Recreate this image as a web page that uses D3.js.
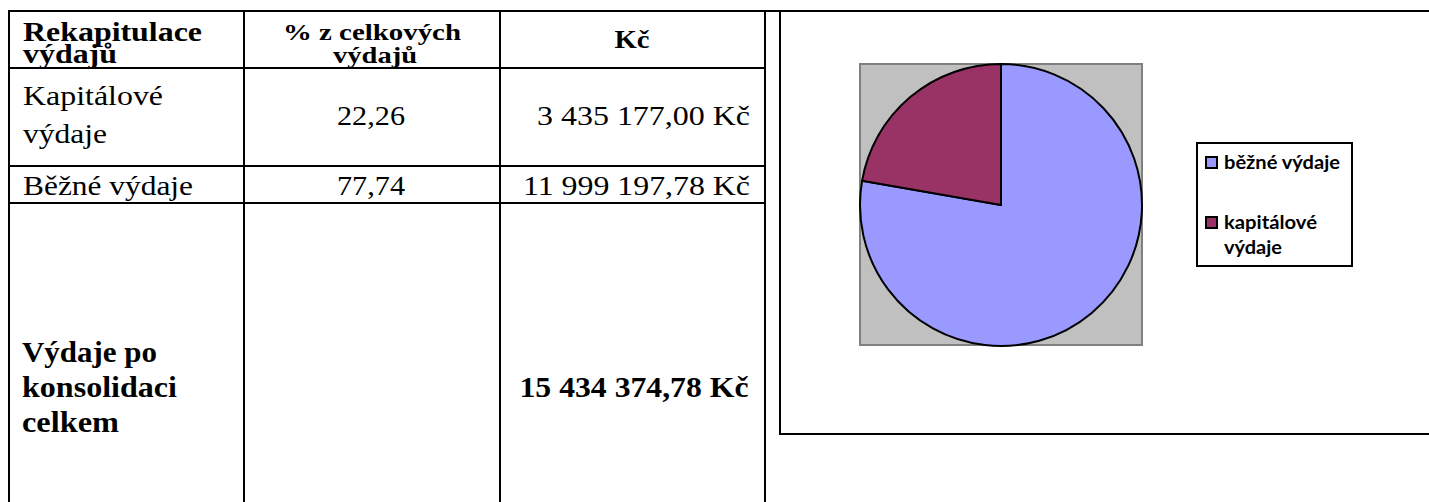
<!DOCTYPE html>
<html>
<head>
<meta charset="utf-8">
<script src="https://cdn.jsdelivr.net/npm/d3@7"></script>
<style>
  body { margin: 0; background: #fff; }
  svg { display: block; }
</style>
</head>
<body>
<svg id="chart" width="1429" height="502"></svg>
<script>
// data
var headers = [["Rekapitulace", "výdajů"], ["% z celkových", "výdajů"], ["Kč"]];
var rowLabels = [["Kapitálové", "výdaje"], ["Běžné výdaje"]];
var rowPct = ["22,26", "77,74"];
var rowKc = ["3 435 177,00 Kč", "11 999 197,78 Kč"];
var totalLabel = ["Výdaje po", "konsolidaci", "celkem"];
var totalKc = "15 434 374,78 Kč";

var pieNames = [["běžné výdaje"], ["kapitálové", "výdaje"]];
var pieValues = [77.74, 22.26];
var pieColors = ["#9999ff", "#993366"];

var SERIF = "'Liberation Serif', 'Times New Roman', serif";
var SANS = "Lato, 'Open Sans', sans-serif";

var svg = d3.select("#chart");

// table grid
var colX = [9, 244, 500, 765];
var rowY = [11, 68, 166, 203];

var grid = svg.append("g").attr("stroke", "#000").attr("stroke-width", 2);
grid.append("line").attr("x1", 8).attr("x2", 1429).attr("y1", 11).attr("y2", 11);
colX.forEach(function(x){
  grid.append("line").attr("x1", x).attr("x2", x).attr("y1", 10).attr("y2", 502);
});
rowY.slice(1).forEach(function(y){
  grid.append("line").attr("x1", 8).attr("x2", 766).attr("y1", y).attr("y2", y);
});

function txt(s, x, y, opt){
  var t = svg.append("text")
    .attr("x", x)
    .attr("y", y)
    .style("font-family", SERIF)
    .attr("font-size", opt.size)
    .attr("font-weight", opt.bold ? "bold" : "normal")
    .attr("text-anchor", opt.anchor || "start")
    .attr("fill", "#000")
    .text(s);
  if(opt.w) t.attr("textLength", opt.w).attr("lengthAdjust", "spacingAndGlyphs");
  return t;
}

// header
txt(headers[0][0], 23, 41, {size: 27, bold: true, w: 179});
txt(headers[0][1], 23, 63, {size: 27, bold: true, w: 94});
txt(headers[1][0], 372, 40, {size: 23, bold: true, w: 178, anchor: "middle"});
txt(headers[1][1], 375, 63, {size: 23, bold: true, w: 84, anchor: "middle"});
txt(headers[2][0], 632, 48, {size: 25, bold: true, w: 35, anchor: "middle"});

// rows
txt(rowLabels[0][0], 23, 105, {size: 28, w: 140});
txt(rowLabels[0][1], 23, 143, {size: 28, w: 84});
txt(rowPct[0], 371, 125, {size: 28, w: 68, anchor: "middle"});
txt(rowKc[0], 750, 125, {size: 28, w: 213, anchor: "end"});

txt(rowLabels[1][0], 23, 195, {size: 28, w: 170});
txt(rowPct[1], 371, 195, {size: 28, w: 68, anchor: "middle"});
txt(rowKc[1], 750, 195, {size: 28, w: 227, anchor: "end"});

// total
txt(totalLabel[0], 22, 362, {size: 30, bold: true, w: 135});
txt(totalLabel[1], 22, 397, {size: 30, bold: true, w: 155});
txt(totalLabel[2], 22, 432, {size: 30, bold: true, w: 97});
txt(totalKc, 634, 397, {size: 30, bold: true, w: 229, anchor: "middle"});

// chart frame
svg.append("path")
  .attr("d", "M1431,434 H780 V11")
  .attr("fill", "none")
  .attr("stroke", "#000")
  .attr("stroke-width", 2);

// plot area
var cx = 1001, cy = 205, r = 141;
svg.append("rect")
  .attr("x", 860).attr("y", 64)
  .attr("width", 282).attr("height", 281)
  .attr("fill", "#c0c0c0")
  .attr("stroke", "#808080")
  .attr("stroke-width", 2);

var pie = d3.pie().sort(null).value(function(d){ return d; });
var arc = d3.arc().innerRadius(0).outerRadius(r);

svg.append("g")
  .attr("transform", "translate(" + cx + "," + cy + ")")
  .selectAll("path")
  .data(pie(pieValues))
  .join("path")
  .attr("d", arc)
  .attr("fill", function(d, i){ return pieColors[i]; })
  .attr("stroke", "#000")
  .attr("stroke-width", 2)
  .attr("stroke-linejoin", "round");

// legend
var lg = svg.append("g");
lg.append("rect")
  .attr("x", 1197).attr("y", 143)
  .attr("width", 155).attr("height", 123)
  .attr("fill", "#fff")
  .attr("stroke", "#000")
  .attr("stroke-width", 2);

var legendY = [157, 217];
var legendW = [[116], [93, 58]];
pieNames.forEach(function(lines, i){
  lg.append("rect")
    .attr("x", 1206).attr("y", legendY[i])
    .attr("width", 11).attr("height", 11)
    .attr("fill", pieColors[i])
    .attr("stroke", "#000")
    .attr("stroke-width", 2);
  lines.forEach(function(l, j){
    lg.append("text")
      .attr("x", 1224)
      .attr("y", legendY[i] + 12 + j * 25)
      .style("font-family", SANS)
      .attr("font-weight", "bold")
      .attr("font-size", 19)
      .attr("textLength", legendW[i][j])
      .attr("lengthAdjust", "spacingAndGlyphs")
      .attr("fill", "#000")
      .text(l);
  });
});
</script>
</body>
</html>
